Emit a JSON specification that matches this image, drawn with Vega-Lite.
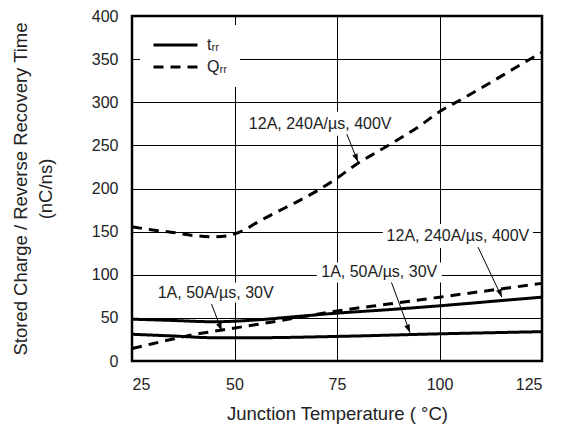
{
  "$schema": "https://vega.github.io/schema/vega-lite/v6.json",
  "width": 410,
  "height": 345,
  "autosize": "none",
  "padding": {"left": 132, "top": 16, "right": 22, "bottom": 65},
  "background": "white",
  "config": {
    "view": {"stroke": "black", "strokeWidth": 2.5},
    "font": "Liberation Sans",
    "axis": {
      "grid": true, "gridColor": "black", "gridOpacity": 1, "gridWidth": 1,
      "domain": false, "ticks": false,
      "labelFont": "Liberation Sans", "labelFontSize": 16, "labelColor": "#222",
      "titleFont": "Liberation Sans", "titleFontSize": 18.5, "titleFontWeight": "normal", "titleColor": "#222"
    }
  },
  "datasets": {
    "curves": [
      {"param": "trr", "curve": "trr12", "temp": 25, "value": 48.5},
      {"param": "trr", "curve": "trr12", "temp": 35, "value": 47},
      {"param": "trr", "curve": "trr12", "temp": 45, "value": 45.5},
      {"param": "trr", "curve": "trr12", "temp": 55, "value": 47.5},
      {"param": "trr", "curve": "trr12", "temp": 65, "value": 51.5},
      {"param": "trr", "curve": "trr12", "temp": 75, "value": 55.5},
      {"param": "trr", "curve": "trr12", "temp": 87.5, "value": 59.5},
      {"param": "trr", "curve": "trr12", "temp": 100, "value": 64},
      {"param": "trr", "curve": "trr12", "temp": 112.5, "value": 69},
      {"param": "trr", "curve": "trr12", "temp": 125, "value": 74},
      {"param": "trr", "curve": "trr1", "temp": 25, "value": 31},
      {"param": "trr", "curve": "trr1", "temp": 35, "value": 29},
      {"param": "trr", "curve": "trr1", "temp": 45, "value": 27},
      {"param": "trr", "curve": "trr1", "temp": 55, "value": 27},
      {"param": "trr", "curve": "trr1", "temp": 75, "value": 28.5},
      {"param": "trr", "curve": "trr1", "temp": 100, "value": 31.5},
      {"param": "trr", "curve": "trr1", "temp": 125, "value": 34},
      {"param": "Qrr", "curve": "Qrr1", "temp": 25, "value": 14.5},
      {"param": "Qrr", "curve": "Qrr1", "temp": 30, "value": 20},
      {"param": "Qrr", "curve": "Qrr1", "temp": 35, "value": 25.5},
      {"param": "Qrr", "curve": "Qrr1", "temp": 40, "value": 30.5},
      {"param": "Qrr", "curve": "Qrr1", "temp": 47, "value": 36},
      {"param": "Qrr", "curve": "Qrr1", "temp": 55, "value": 42},
      {"param": "Qrr", "curve": "Qrr1", "temp": 62, "value": 47.5},
      {"param": "Qrr", "curve": "Qrr1", "temp": 75, "value": 58},
      {"param": "Qrr", "curve": "Qrr1", "temp": 87.5, "value": 66},
      {"param": "Qrr", "curve": "Qrr1", "temp": 100, "value": 74},
      {"param": "Qrr", "curve": "Qrr1", "temp": 112.5, "value": 82},
      {"param": "Qrr", "curve": "Qrr1", "temp": 125, "value": 90},
      {"param": "Qrr", "curve": "Qrr12", "temp": 25, "value": 155.5},
      {"param": "Qrr", "curve": "Qrr12", "temp": 30, "value": 152},
      {"param": "Qrr", "curve": "Qrr12", "temp": 35, "value": 149},
      {"param": "Qrr", "curve": "Qrr12", "temp": 40, "value": 145.5},
      {"param": "Qrr", "curve": "Qrr12", "temp": 45, "value": 144},
      {"param": "Qrr", "curve": "Qrr12", "temp": 48, "value": 145},
      {"param": "Qrr", "curve": "Qrr12", "temp": 52, "value": 151},
      {"param": "Qrr", "curve": "Qrr12", "temp": 56, "value": 162},
      {"param": "Qrr", "curve": "Qrr12", "temp": 60, "value": 172},
      {"param": "Qrr", "curve": "Qrr12", "temp": 65, "value": 184},
      {"param": "Qrr", "curve": "Qrr12", "temp": 70, "value": 197},
      {"param": "Qrr", "curve": "Qrr12", "temp": 75, "value": 212},
      {"param": "Qrr", "curve": "Qrr12", "temp": 80, "value": 229},
      {"param": "Qrr", "curve": "Qrr12", "temp": 85, "value": 243},
      {"param": "Qrr", "curve": "Qrr12", "temp": 90, "value": 257},
      {"param": "Qrr", "curve": "Qrr12", "temp": 95, "value": 272},
      {"param": "Qrr", "curve": "Qrr12", "temp": 100, "value": 289},
      {"param": "Qrr", "curve": "Qrr12", "temp": 106, "value": 305},
      {"param": "Qrr", "curve": "Qrr12", "temp": 112.5, "value": 323},
      {"param": "Qrr", "curve": "Qrr12", "temp": 118.5, "value": 340},
      {"param": "Qrr", "curve": "Qrr12", "temp": 125, "value": 358}
    ],
    "notes": [
      {"label": "12A, 240A/µs, 400V", "temp": 70.9, "value": 275, "fromTemp": 77.4, "fromValue": 263, "toTemp": 80.1, "toValue": 231},
      {"label": "12A, 240A/µs, 400V", "temp": 104.5, "value": 145, "fromTemp": 109.4, "fromValue": 132, "toTemp": 115.2, "toValue": 74},
      {"label": "1A, 50A/µs, 30V", "temp": 85.3, "value": 102.7, "fromTemp": 88.3, "fromValue": 91, "toTemp": 92.8, "toValue": 33},
      {"label": "1A, 50A/µs, 30V", "temp": 45.4, "value": 79.4, "fromTemp": 44.4, "fromValue": 66, "toTemp": 46.9, "toValue": 35}
    ]
  },
  "layer": [
    {
      "data": {"name": "notes"},
      "mark": {"type": "point", "filled": true, "fill": "white", "stroke": null, "opacity": 1,
               "shape": "M-1,-0.16L1,-0.16L1,0.16L-1,0.16Z"},
      "encoding": {
        "x": {"field": "temp", "type": "quantitative", "title": "Junction Temperature ( °C)",
              "scale": {"domain": [25, 125], "nice": false},
              "axis": {"values": [25, 50, 75, 100, 125], "labelPadding": 15, "titlePadding": 12}},
        "y": {"field": "value", "type": "quantitative", "title": ["Stored Charge / Reverse Recovery Time", "(nC/ns)"],
              "scale": {"domain": [0, 400], "nice": false},
              "axis": {"values": [0, 50, 100, 150, 200, 250, 300, 350, 400], "labelPadding": 14, "titlePadding": 36, "titleLineHeight": 25}},
        "size": {"field": "label", "type": "nominal", "legend": null,
                 "scale": {"domain": ["12A, 240A/µs, 400V", "1A, 50A/µs, 30V"], "range": [22500, 15625]}}
      }
    },
    {
      "data": {"name": "curves"},
      "mark": {"type": "line", "strokeWidth": 3, "color": "black", "interpolate": "monotone"},
      "encoding": {
        "x": {"field": "temp", "type": "quantitative", "title": "Junction Temperature ( °C)"},
        "y": {"field": "value", "type": "quantitative", "title": ["Stored Charge / Reverse Recovery Time", "(nC/ns)"]},
        "detail": {"field": "curve"},
        "strokeDash": {"field": "param", "type": "nominal",
          "scale": {"domain": ["trr", "Qrr"], "range": [[1, 0], [10, 7]]},
          "legend": {"title": null, "orient": "none", "legendX": 8, "legendY": 9, "fillColor": "white", "padding": 12,
                     "symbolType": "stroke", "symbolSize": 1936, "symbolStrokeWidth": 3, "symbolStrokeColor": "black",
                     "clipHeight": 16, "rowPadding": 6, "labelFontSize": 16, "labelOffset": 8, "labelColor": "#222",
                     "labelExpr": "datum.value == 'trr' ? 'tᵣᵣ' : 'Qᵣᵣ'"}}
      }
    },
    {
      "data": {"name": "notes"},
      "mark": {"type": "text", "fontSize": 16, "color": "#222", "align": "center", "baseline": "middle"},
      "encoding": {
        "x": {"field": "temp", "type": "quantitative", "title": "Junction Temperature ( °C)"},
        "y": {"field": "value", "type": "quantitative", "title": ["Stored Charge / Reverse Recovery Time", "(nC/ns)"]},
        "text": {"field": "label"}
      }
    },
    {
      "data": {"name": "notes"},
      "mark": {"type": "rule", "color": "black", "strokeWidth": 1},
      "encoding": {
        "x": {"field": "fromTemp", "type": "quantitative", "title": "Junction Temperature ( °C)"},
        "y": {"field": "fromValue", "type": "quantitative", "title": ["Stored Charge / Reverse Recovery Time", "(nC/ns)"]},
        "x2": {"field": "toTemp"},
        "y2": {"field": "toValue"}
      }
    },
    {
      "data": {"name": "notes"},
      "mark": {"type": "point", "filled": true, "fill": "black", "stroke": null, "opacity": 1, "size": 256, "angle": -22,
               "shape": "M0,0L-0.35,-1L0.35,-1Z"},
      "encoding": {
        "x": {"field": "toTemp", "type": "quantitative", "title": "Junction Temperature ( °C)"},
        "y": {"field": "toValue", "type": "quantitative", "title": ["Stored Charge / Reverse Recovery Time", "(nC/ns)"]}
      }
    }
  ]
}
